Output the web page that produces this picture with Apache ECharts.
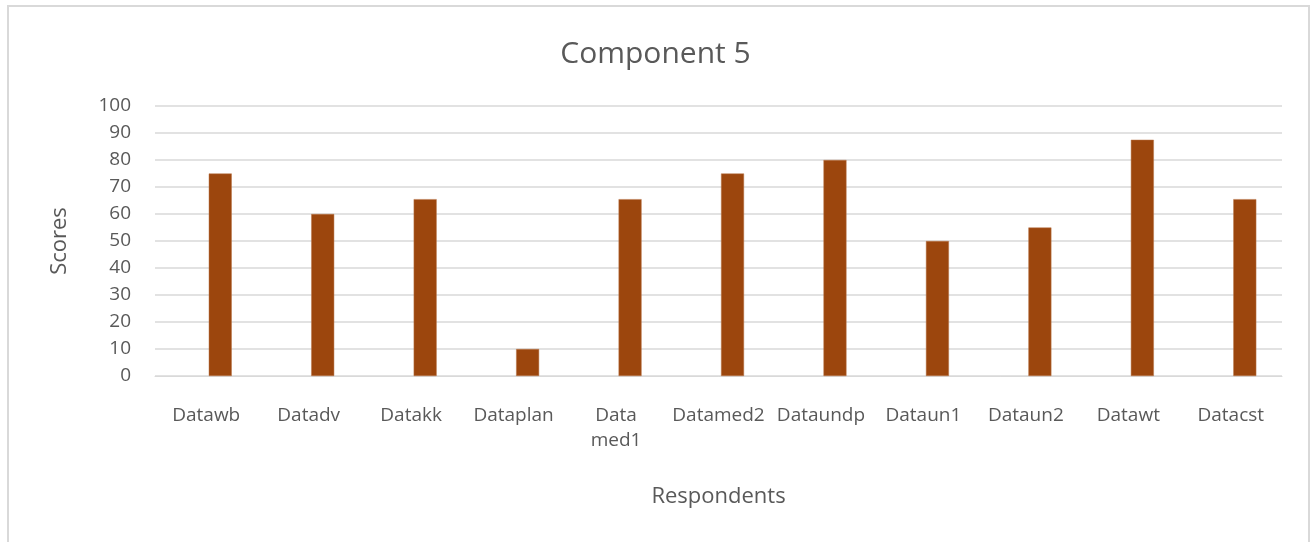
<!DOCTYPE html>
<html>
<head>
<meta charset="utf-8">
<script src="https://cdn.jsdelivr.net/npm/echarts@6/dist/echarts.min.js"></script>
<style>
html,body{margin:0;padding:0;background:#fff;}
#chart{width:1311px;height:542px;}
</style>
</head>
<body>
<div id="chart"></div>
<script>
const categories = ["Datawb","Datadv","Datakk","Dataplan","Data med1","Datamed2","Dataundp","Dataun1","Dataun2","Datawt","Datacst"];
const scores = [75, 60, 65.5, 10, 65.5, 75, 80, 50, 55, 87.5, 65.5];
const emptySeries = [];
const yTicks = [0,10,20,30,40,50,60,70,80,90,100];

const FONT = "'Open Sans', 'Liberation Sans', sans-serif";
const chart = echarts.init(document.getElementById('chart'), null, {renderer:'canvas'});
chart.setOption({
  animation:false,
  backgroundColor:'#ffffff',
  graphic:[{
    type:'rect', shape:{x:8, y:6, width:1301, height:560},
    style:{fill:'none', stroke:'#d9d9d9', lineWidth:2}, silent:true
  }],
  title:{
    text:'Component 5', left:'center', top:34,
    textStyle:{fontFamily:FONT, fontSize:30, fontWeight:'normal', color:'#595959'}
  },
  grid:{left:155, right:29, top:106, bottom:166},
  xAxis:{
    type:'category', data:categories,
    name:'Respondents', nameLocation:'middle', nameGap:110,
    nameTextStyle:{fontFamily:FONT, fontSize:22, color:'#595959'},
    axisLine:{show:true, lineStyle:{color:'#d9d9d9', width:1}},
    axisTick:{show:false},
    axisLabel:{fontFamily:FONT, fontSize:19, color:'#595959', margin:27, interval:0, lineHeight:25,
      formatter:v=>v.replace(' ', '\n')}
  },
  yAxis:{
    type:'value', min:yTicks[0], max:yTicks[yTicks.length-1], interval:10,
    name:'Scores', nameLocation:'middle', nameGap:84, nameRotate:90,
    nameTextStyle:{fontFamily:FONT, fontSize:22, color:'#595959'},
    axisLine:{show:false}, axisTick:{show:false},
    axisLabel:{fontFamily:FONT, fontSize:19, color:'#595959', margin:24},
    splitLine:{lineStyle:{color:'#d9d9d9', width:1.5}}
  },
  series:[{
    type:'bar', data:emptySeries, barWidth:23, barGap:'22%',
    itemStyle:{color:'#ffffff'}
  },{
    type:'bar', data:scores, barWidth:23, barGap:'22%',
    itemStyle:{color:'#9c460d', borderColor:'#b8764a', borderWidth:0.5}
  }]
});
</script>
</body>
</html>
